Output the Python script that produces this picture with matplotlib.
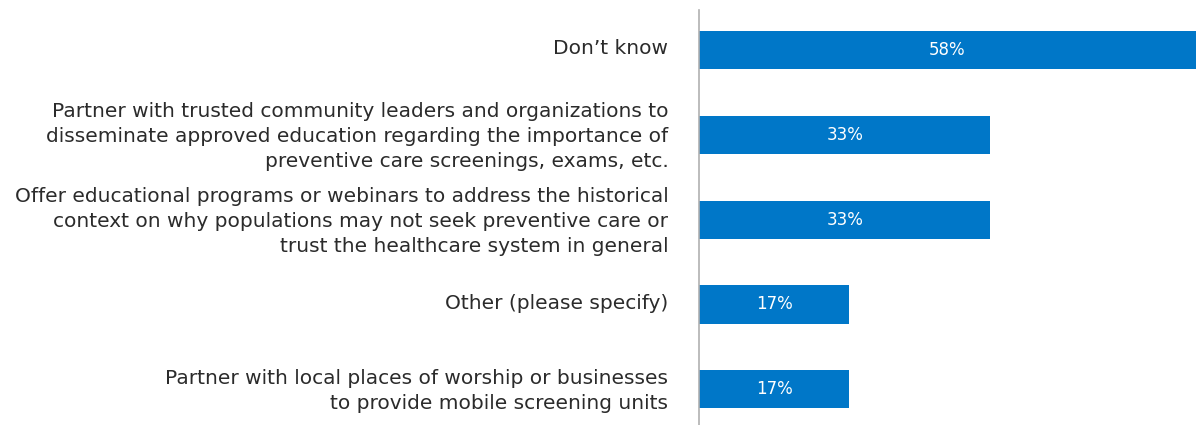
import matplotlib.pyplot as plt
from matplotlib.transforms import ScaledTranslation

plt.rcParams['font.family'] = ['DejaVu Sans']

categories = [
    "Don\u2019t know",
    "Partner with trusted community leaders and organizations to\ndisseminate approved education regarding the importance of\npreventive care screenings, exams, etc.",
    "Offer educational programs or webinars to address the historical\ncontext on why populations may not seek preventive care or\ntrust the healthcare system in general",
    "Other (please specify)",
    "Partner with local places of worship or businesses\nto provide mobile screening units",
]
values = [58, 33, 33, 17, 17]
labels = ["58%", "33%", "33%", "17%", "17%"]

blue = "#0077C8"
xmax = 56.3

fig = plt.figure(figsize=(11.96, 4.25), dpi=100)
ax = fig.add_axes([699 / 1196, 0, 1 - 699 / 1196, 415 / 425])

ypos = list(range(len(values)))
ax.barh(ypos, values, height=0.45, color=blue)
for y, v, lab in zip(ypos, values, labels):
    ax.text(min(v, xmax) / 2, y, lab, ha="center", va="center",
            color="white", fontsize=12)

ax.set_xlim(0, xmax)
ax.set_ylim(4.42, -0.47)
ax.set_yticks(ypos)
ax.set_yticklabels(categories, fontsize=14.5, color="#2b2b2b",
                   multialignment="right", linespacing=1.38)
ax.tick_params(axis="y", length=0, pad=22)
# nudge labels up a little
shift = ScaledTranslation(0, 3 / 100, fig.dpi_scale_trans)
for t in ax.get_yticklabels():
    t.set_transform(t.get_transform() + shift)
ax.set_xticks([])
for s in ["top", "right", "bottom"]:
    ax.spines[s].set_visible(False)
ax.spines["left"].set_color("#b0b0b0")
ax.spines["left"].set_linewidth(1.2)

fig.savefig("out.png", dpi=100)
